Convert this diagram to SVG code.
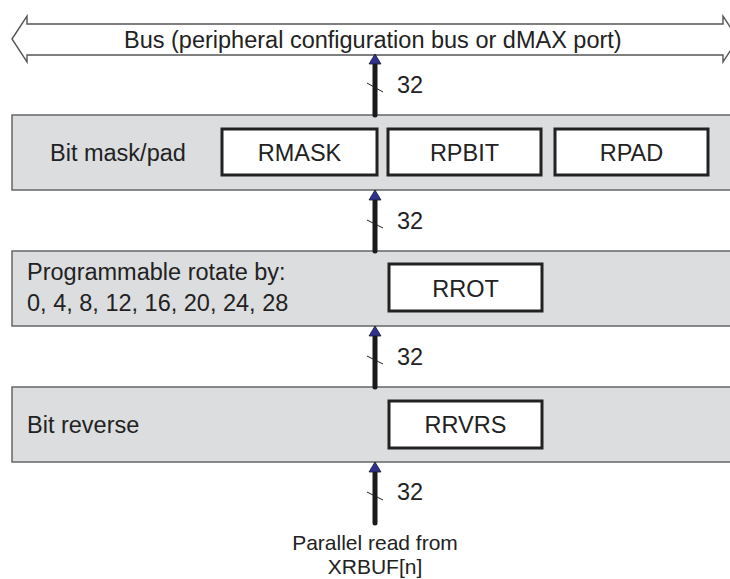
<svg xmlns="http://www.w3.org/2000/svg" width="730" height="579" viewBox="0 0 730 579">
<style>
  text { font-family: "Liberation Sans", Arial, sans-serif; font-size: 23.5px; fill: #222; }
  .band { fill: #dcdddf; stroke: #666; stroke-width: 1.5; }
  .reg { fill: #fff; stroke: #222; stroke-width: 3; }
  .shaft { stroke: #1a1a1a; stroke-width: 5; stroke-linecap: round; fill: none; }
  .head { fill: #2e3192; stroke: #1a1a1a; stroke-width: 0.8; }
  .tick { stroke: #222; stroke-width: 1; }
  .mid { text-anchor: middle; }
  .src { font-size: 21px; }
</style>
<rect width="730" height="579" fill="#fff"/>
<g id="bus">
  <polygon points="12,39 27,16 27,24 723,24 723,16 738,39 723,62 723,55 27,55 27,62" fill="#fff" stroke="#555" stroke-width="1.4"/>
  <text x="124" y="48">Bus (peripheral configuration bus or dMAX port)</text>
</g>
<g id="bitmask">
  <rect class="band" x="12" y="115" width="740" height="75"/>
  <text x="50" y="161">Bit mask/pad</text>
</g>
<g id="rmask">
  <rect class="reg" x="222" y="129" width="155" height="46"/>
  <text class="mid" x="299.5" y="161">RMASK</text>
</g>
<g id="rpbit">
  <rect class="reg" x="388" y="129" width="153" height="46"/>
  <text class="mid" x="464.5" y="161">RPBIT</text>
</g>
<g id="rpad">
  <rect class="reg" x="555" y="129" width="153" height="46"/>
  <text class="mid" x="631.5" y="161">RPAD</text>
</g>
<g id="rotate">
  <rect class="band" x="12" y="251" width="740" height="75"/>
  <text x="27" y="280">Programmable rotate by:</text>
  <text x="27" y="311">0, 4, 8, 12, 16, 20, 24, 28</text>
</g>
<g id="rrot">
  <rect class="reg" x="389" y="264" width="153" height="47"/>
  <text class="mid" x="465.5" y="297">RROT</text>
</g>
<g id="reverse">
  <rect class="band" x="12" y="387" width="740" height="75"/>
  <text x="27" y="433">Bit reverse</text>
</g>
<g id="rrvrs">
  <rect class="reg" x="389" y="401" width="153" height="47"/>
  <text class="mid" x="465.5" y="433">RRVRS</text>
</g>
<g id="source">
  <text class="mid src" x="375" y="550">Parallel read from</text>
  <text class="mid src" x="375" y="574">XRBUF[n]</text>
</g>
<g id="connectors">
  <line class="shaft" x1="375" y1="115" x2="375" y2="62"/>
  <polygon class="head" points="375,54 369,64 381,64"/>
  <line class="tick" x1="367" y1="83" x2="383" y2="92"/>
  <text x="397" y="93">32</text>

  <line class="shaft" x1="375" y1="251" x2="375" y2="198"/>
  <polygon class="head" points="375,190 369,200 381,200"/>
  <line class="tick" x1="367" y1="220" x2="383" y2="228"/>
  <text x="397" y="229">32</text>

  <line class="shaft" x1="375" y1="387" x2="375" y2="334"/>
  <polygon class="head" points="375,326 369,336 381,336"/>
  <line class="tick" x1="367" y1="356" x2="383" y2="364"/>
  <text x="397" y="365">32</text>

  <line class="shaft" x1="375" y1="523" x2="375" y2="470"/>
  <polygon class="head" points="375,462 369,472 381,472"/>
  <line class="tick" x1="367" y1="492" x2="383" y2="500"/>
  <text x="397" y="500">32</text>
</g>
</svg>
